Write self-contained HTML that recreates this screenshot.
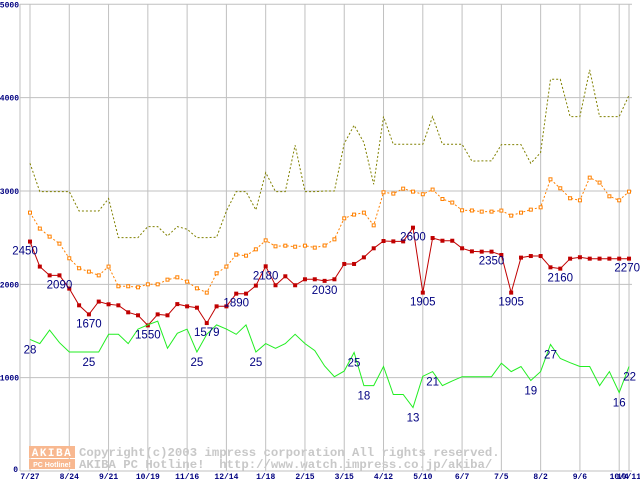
<!DOCTYPE html>
<html><head><meta charset="utf-8"><style>
body{margin:0;background:#fff;}
svg{display:block;}
text{white-space:pre;}
</style></head><body>
<svg id="chart" width="640" height="480" viewBox="0 0 640 480" xmlns="http://www.w3.org/2000/svg"></svg>
<script>
const yTicks=[0,1000,2000,3000,4000,5000];
const dateLabels=["7/27","8/24","9/21","10/19","11/16","12/14","1/18","2/15","3/15","4/12","5/10","6/7","7/5","8/2","9/6","10/4","10/11"];
const dateIdx=[0,4,8,12,16,20,24,28,32,36,40,44,48,52,56,60,61];
const maxPrice=[3297,2993,2993,2993,2993,2786,2786,2786,2918,2500,2500,2500,2618,2618,2518,2618,2590,2500,2500,2505,2786,2993,2993,2797,3197,2993,2993,3490,2993,2993,3000,3000,3508,3704,3519,3072,3797,3500,3500,3500,3500,3797,3500,3500,3500,3320,3322,3322,3497,3497,3497,3297,3411,4197,4197,3797,3797,4297,3797,3797,3797,4025];
const avgPrice=[2768,2597,2511,2436,2279,2172,2136,2096,2190,1979,1979,1968,2000,2000,2050,2075,2029,1957,1911,2118,2190,2318,2307,2375,2471,2407,2414,2403,2414,2393,2416,2482,2707,2747,2768,2632,2986,2972,3025,2993,2965,3015,2914,2876,2793,2791,2779,2779,2790,2736,2768,2800,2825,3125,3029,2922,2900,3143,3090,2943,2900,2993];
const minPrice=[2458,2190,2096,2096,1954,1775,1678,1815,1786,1775,1700,1668,1560,1678,1668,1788,1764,1750,1585,1764,1764,1900,1900,1986,2193,1990,2086,1990,2054,2054,2037,2054,2218,2218,2289,2386,2464,2460,2460,2607,1911,2496,2467,2467,2386,2353,2350,2350,2314,1911,2286,2303,2303,2182,2168,2275,2290,2275,2275,2275,2275,2275];
const shopCount=[28.2,27.3,30.2,27.5,25.5,25.5,25.5,25.5,29.3,29.3,27.3,30.4,31.3,32.1,26.3,29.5,30.4,25.5,29.3,31.3,30.4,29.3,31.3,25.5,27.3,26.3,27.3,29.3,27.3,25.8,22.5,20.2,21.4,25.4,18.3,18.3,22.4,16.4,16.4,13.6,20.3,21.3,18.3,19.3,20.2,20.2,20.2,20.2,23.1,21.3,22.4,19.4,21.3,27.1,24.1,23.2,22.4,22.4,18.3,21.3,16.8,22.4];
const minLabelIdx=[0,3,6,12,18,21,24,30,39,40,47,49,54,61];
const minLabelText=["2450","2090","1670","1550","1579","1890","2180","2030","2600","1905","2350","1905","2160","2270"];
const cntLabelIdx=[0,6,17,23,33,34,39,41,51,53,60,61];
const cntLabelText=["28","25","25","25","25","18","13","21","19","27","16","22"];

const NS="http://www.w3.org/2000/svg";
const svg=document.getElementById('chart');
const X=i=>30+i*9.82;
const Y=v=>471-v*0.09334;
const YC=c=>Y(c*50);
function mk(t,a,p){const e=document.createElementNS(NS,t);for(const k in a)e.setAttribute(k,a[k]);(p||svg).appendChild(e);return e;}

const grid=mk('g',{});
yTicks.forEach(v=>{if(v>0){const l=mk('line',{x1:20,x2:632,y1:Y(v),y2:Y(v),stroke:'#c0c0c0','stroke-width':1},grid);
}
const t=mk('text',{x:v===0?18:19,y:v===0?Y(v)+1:Y(v)+3,'text-anchor':'end','font-family':'Liberation Mono, monospace','font-size':8,'font-weight':'bold',fill:'#000080'});
t.textContent=v;});
dateIdx.forEach((di,k)=>{const l=mk('line',{x1:X(di),x2:X(di),y1:4,y2:471,stroke:'#c0c0c0','stroke-width':1},grid);

const t=mk('text',{x:X(di),y:479,'text-anchor':'middle','font-family':'Liberation Mono, monospace','font-size':8,'font-weight':'bold',fill:'#000080'});
t.textContent=dateLabels[k];});
const ax=mk('line',{x1:20,x2:20,y1:4,y2:471,stroke:'#c0c0c0'});
const bx=mk('line',{x1:20,x2:632,y1:471,y2:471,stroke:'#c0c0c0'});

const wm=mk('g',{});
mk('rect',{x:29,y:446,width:46,height:12,fill:'#f8b890'},wm);
mk('rect',{x:29,y:459,width:46,height:10,fill:'#f8b890'},wm);
const a1=mk('text',{x:52,y:456,'text-anchor':'middle','font-family':'Liberation Mono, monospace','font-size':11,'font-weight':'bold',fill:'#fff','letter-spacing':'1.5'},wm);a1.textContent='AKIBA';
const a2=mk('text',{x:52,y:467,'text-anchor':'middle','font-family':'Liberation Sans, sans-serif','font-size':7,'font-weight':'bold',fill:'#fff'},wm);a2.textContent='PC Hotline!';
const c1=mk('text',{x:79,y:456,'font-family':'Liberation Mono, monospace','font-size':12.3,'font-weight':'bold',fill:'#c8c8c8','xml:space':'preserve'},wm);c1.textContent='Copyright(c)2003 impress corporation All rights reserved.';
const c2=mk('text',{x:79,y:468,'font-family':'Liberation Mono, monospace','font-size':12.3,'font-weight':'bold',fill:'#c8c8c8','xml:space':'preserve'},wm);c2.textContent='AKIBA PC Hotline!  http://www.watch.impress.co.jp/akiba/';

function pts(arr,f){return arr.map((v,i)=>X(i).toFixed(1)+','+f(v).toFixed(1)).join(' ');}
const s1=mk('polyline',{points:pts(maxPrice,Y),fill:'none',stroke:'#808000','stroke-width':1,'stroke-dasharray':'2,2'});

const s2=mk('polyline',{points:pts(avgPrice,Y),fill:'none',stroke:'#ff8000','stroke-width':1,'stroke-dasharray':'2,2'});

avgPrice.forEach((v,i)=>{const r=mk('rect',{x:X(i)-1.5,y:Y(v)-1.5,width:3,height:3,fill:'#fff',stroke:'#ff8000','stroke-width':1});
});
const s3=mk('polyline',{points:pts(minPrice,Y),fill:'none',stroke:'#c00000','stroke-width':1});

minPrice.forEach((v,i)=>{const r=mk('rect',{x:X(i)-2,y:Y(v)-2,width:4,height:4,fill:'#c00000'});
});
const s4=mk('polyline',{points:pts(shopCount,YC),fill:'none',stroke:'#22ee22','stroke-width':1});


function lab(x,y,txt,anchor){const t=mk('text',{x:x,y:y,'text-anchor':anchor,'font-family':'Liberation Sans, sans-serif','font-size':11.5,fill:'#000080'});t.textContent=txt;return t;}
minLabelIdx.forEach((i,k)=>{let x=X(i),a='middle';if(i===0)x=25;if(i===61){x=640;a='end';}
const t=lab(x,Y(minPrice[i])+13,minLabelText[k],a);});
cntLabelIdx.forEach((i,k)=>{let x=X(i),a='middle';if(i===61){x=636;a='end';}
const t=lab(x,YC(shopCount[i])+14,cntLabelText[k],a);});
</script>
</body></html>
